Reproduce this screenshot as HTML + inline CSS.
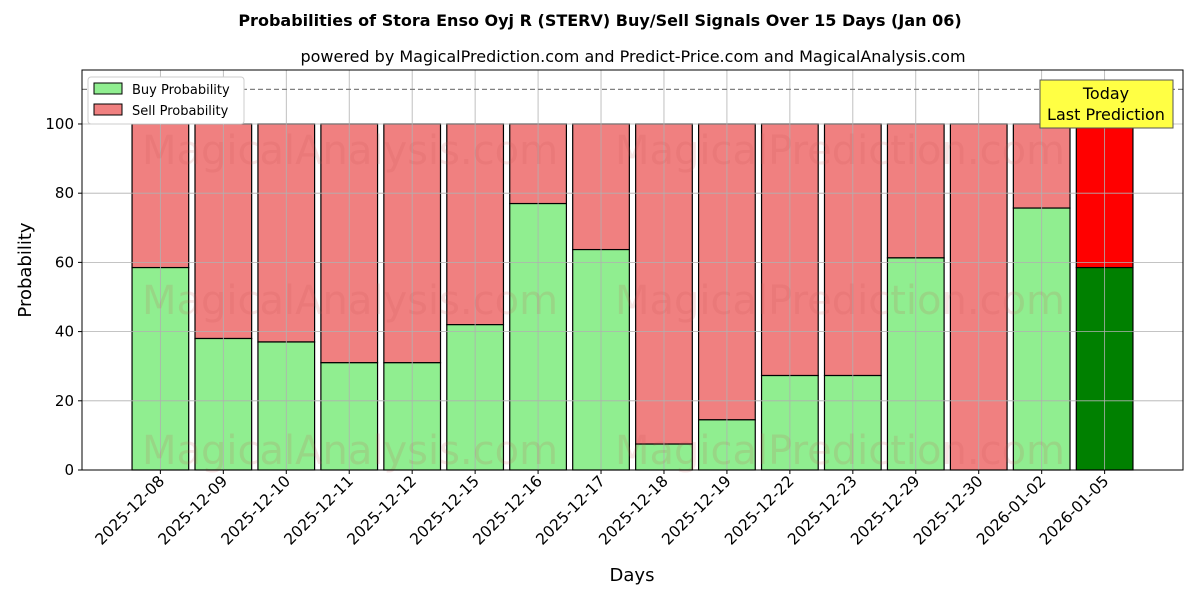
<!DOCTYPE html>
<html><head><meta charset="utf-8"><style>
body{margin:0;background:#fff;font-family:"DejaVu Sans","Liberation Sans",sans-serif}
</style></head><body>
<svg id="chart" width="1200" height="600" xmlns="http://www.w3.org/2000/svg" font-family="DejaVu Sans, Liberation Sans, sans-serif"></svg>
<script>
const categories=["2025-12-08","2025-12-09","2025-12-10","2025-12-11","2025-12-12","2025-12-15","2025-12-16","2025-12-17","2025-12-18","2025-12-19","2025-12-22","2025-12-23","2025-12-29","2025-12-30","2026-01-02","2026-01-05"];
const buyValues=[58.5,38,37,31,31,42,77,63.7,7.5,14.5,27.3,27.3,61.3,0,75.7,58.5];
const yTicks=[0,20,40,60,80,100];
const L=82,R=1183,T=70,B=470,xmin=-1.245,xmax=16.245,ymax=115.6;
const X=v=>L+(v-xmin)/(xmax-xmin)*(R-L);
const Y=v=>B-v/ymax*(B-T);
const svg=document.getElementById('chart');
const NS='http://www.w3.org/2000/svg';
function mk(tag,attrs,parent){const e=document.createElementNS(NS,tag);for(const k in attrs)e.setAttribute(k,attrs[k]);(parent||svg).appendChild(e);return e;}
let t;
t=mk('text',{x:600,y:26,'text-anchor':'middle','font-size':16,'font-weight':'bold'});t.textContent='Probabilities of Stora Enso Oyj R (STERV) Buy/Sell Signals Over 15 Days (Jan 06)';

t=mk('text',{x:633,y:62,'text-anchor':'middle','font-size':16});t.textContent='powered by MagicalPrediction.com and Predict-Price.com and MagicalAnalysis.com';

const n=categories.length;
categories.forEach((c,i)=>{
  const x0=X(i-0.45),w=X(i+0.45)-X(i-0.45);
  const last=i===n-1;
  let r=mk('rect',{x:x0,y:Y(100),width:w,height:Y(buyValues[i])-Y(100),fill:last?'#ff0000':'#f08080',stroke:'#000','stroke-width':1.2});
  
  r=mk('rect',{x:x0,y:Y(buyValues[i]),width:w,height:B-Y(buyValues[i]),fill:last?'#008000':'#90ee90',stroke:'#000','stroke-width':1.2});
  
});
categories.forEach((c,i)=>{
  const x=X(i);
  let g=mk('line',{x1:x,x2:x,y1:T,y2:B,stroke:'#b0b0b0','stroke-width':0.8});
  
  mk('line',{x1:x,x2:x,y1:B,y2:B+4,stroke:'#000'});
  const tx=mk('text',{transform:`translate(${x+5},${B+12}) rotate(-45)`,'text-anchor':'end','font-size':15.5});
  tx.textContent=c;
  
});
yTicks.forEach(v=>{
  const y=Y(v);
  let g=mk('line',{x1:L,x2:R,y1:y,y2:y,stroke:'#b0b0b0','stroke-width':0.8});
  
  mk('line',{x1:L-4,x2:L,y1:y,y2:y,stroke:'#000'});
  const tx=mk('text',{x:L-8,y:y+5,'text-anchor':'end','font-size':15});tx.textContent=v;
  
});
[[350,150],[840,150],[350,300],[840,300],[350,450],[840,450]].forEach((p,k)=>{
  const tx=mk('text',{x:p[0],y:p[1]+14,'text-anchor':'middle','font-size':40,fill:'rgba(200,80,80,0.15)'});
  tx.textContent=k%2?'MagicalPrediction.com':'MagicalAnalysis.com';
  
});
let d=mk('line',{x1:L,x2:R,y1:Y(110),y2:Y(110),stroke:'#808080','stroke-width':1.2,'stroke-dasharray':'5,3'});

let f=mk('rect',{x:L,y:T,width:R-L,height:B-T,fill:'none',stroke:'#000','stroke-width':1});

t=mk('text',{x:632,y:581,'text-anchor':'middle','font-size':18});t.textContent='Days';

t=mk('text',{transform:'translate(31,270) rotate(-90)','text-anchor':'middle','font-size':18});t.textContent='Probability';

let tb=mk('rect',{x:1040,y:80,width:133,height:48,fill:'#ffff44',stroke:'#555'});

t=mk('text',{x:1106,y:99,'text-anchor':'middle','font-size':16});t.textContent='Today';

t=mk('text',{x:1106,y:120,'text-anchor':'middle','font-size':16});t.textContent='Last Prediction';

let lg=mk('g',{});
mk('rect',{x:88,y:77,width:156,height:47,fill:'#fff',stroke:'#ccc',rx:3},lg);
mk('rect',{x:94,y:83,width:28,height:11,fill:'#90ee90',stroke:'#000'},lg);
t=mk('text',{x:132,y:94,'font-size':13},lg);t.textContent='Buy Probability';

mk('rect',{x:94,y:104,width:28,height:11,fill:'#f08080',stroke:'#000'},lg);
t=mk('text',{x:132,y:115,'font-size':13},lg);t.textContent='Sell Probability';

</script>
</body></html>
